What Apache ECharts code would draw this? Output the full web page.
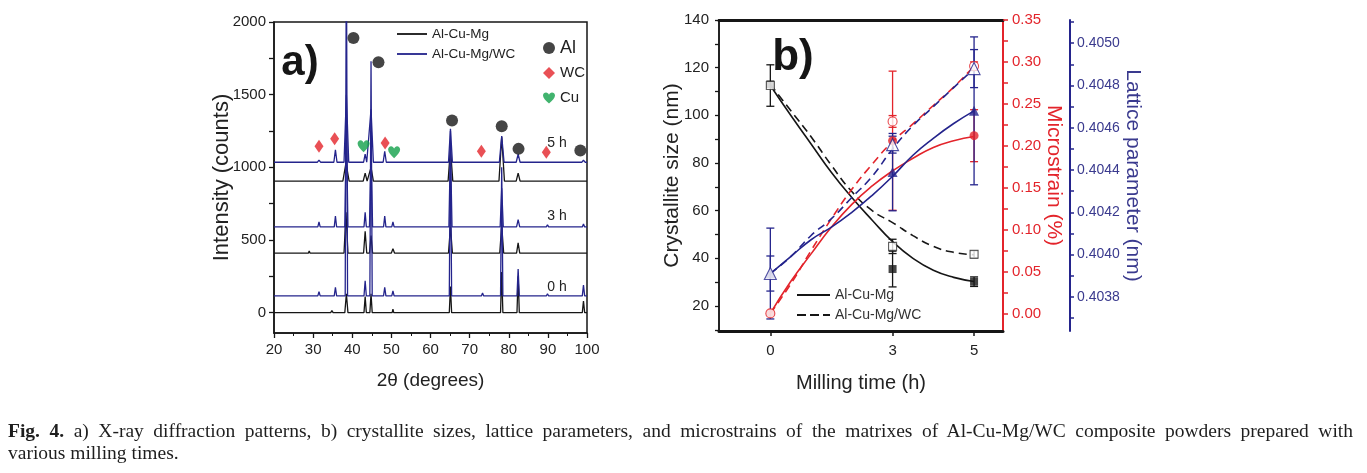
<!DOCTYPE html>
<html>
<head>
<meta charset="utf-8">
<script src="https://cdn.jsdelivr.net/npm/echarts@6/dist/echarts.min.js"></script>
<style>
  html, body { margin: 0; padding: 0; background: #fff; }
  #wrap { position: relative; width: 1367px; height: 473px; }
  #chart { position: absolute; left: 0; top: 0; width: 1367px; height: 473px; }
  #cap { position: absolute; left: 8px; top: 420px; width: 1350px; font-family: "Liberation Serif", serif; font-size: 19.5px; line-height: 22px; color: #1e1e1e; }
  #cap span { white-space: nowrap; }
</style>
</head>
<body>
<div id="wrap">
  <div id="chart"></div>
  <div id="cap">
    <div><span id="l1"><b>Fig. 4.</b> a) X-ray diffraction patterns, b) crystallite sizes, lattice parameters, and microstrains of the matrixes of Al-Cu-Mg/WC composite powders prepared with</span></div>
    <div><span>various milling times.</span></div>
  </div>
</div>
<script>
// ---- a) XRD patterns: [2theta, counts] (traces are stacked)
var xrdCuMg0h = [[20,0],[30,0],[34.5,0],[34.8,15],[35.1,0],[38.1,0],[38.5,130],[38.9,0],[43.0,0],[43.3,110],[43.6,0],
  [44.5,0],[44.8,130],[45.1,0],[50.2,0],[50.4,25],[50.6,0],[64.8,0],[65.1,180],[65.4,0],[77.9,0],[78.2,280],[78.5,0],
  [82.1,0],[82.4,250],[82.7,0],[98.8,0],[99.1,80],[99.4,0],[100,0]];
var xrdCuMg3h = [[20,410],[28.8,410],[29.0,425],[29.2,410],[37.9,410],[38.4,690],[38.9,410],[42.9,410],[43.3,560],[43.7,410],
  [44.4,410],[44.8,530],[45.2,410],[50.0,410],[50.4,440],[50.8,410],[64.6,410],[65.1,590],[65.6,410],[73.8,410],[74.1,422],
  [74.4,410],[77.7,410],[78.2,600],[78.7,410],[82.0,410],[82.4,480],[82.8,410],[98.8,410],[99.1,420],[99.4,410],[100,410]];
var xrdCuMg5h = [[20,905],[37.6,905],[38.4,1030],[39.2,905],[42.8,905],[43.3,960],[43.8,905],[44.2,905],[44.8,1000],[45.4,905],
  [64.5,905],[65.1,1130],[65.7,905],[77.5,905],[78.2,1210],[78.9,905],[81.9,905],[82.4,960],[82.9,905],[100,905]];
var xrdWC0h = [[20,115],[31.2,115],[31.5,145],[31.8,115],[35.4,115],[35.7,175],[36.0,115],[38.2,115],[38.5,2600],[38.8,115],
  [43.0,115],[43.3,220],[43.6,115],[44.5,115],[44.8,1730],[45.1,115],[48.0,115],[48.3,175],[48.6,115],[50.1,115],[50.4,150],
  [50.7,115],[64.8,115],[65.1,1250],[65.4,115],[73.0,115],[73.3,135],[73.6,115],[77.9,115],[78.2,1000],[78.5,115],
  [82.1,115],[82.4,300],[82.7,115],[89.6,115],[89.9,130],[90.2,115],[98.8,115],[99.1,190],[99.4,115],[100,115]];
var xrdWC3h = [[20,590],[31.2,590],[31.5,625],[31.8,590],[35.4,590],[35.7,665],[36.0,590],[38.1,590],[38.5,1300],[38.9,590],
  [43.0,590],[43.3,690],[43.6,590],[44.4,590],[44.8,1100],[45.2,590],[48.0,590],[48.3,665],[48.6,590],[50.1,590],[50.4,625],
  [50.7,590],[64.7,590],[65.1,1150],[65.5,590],[77.8,590],[78.2,855],[78.6,590],[82.0,590],[82.4,640],[82.8,590],
  [89.6,590],[89.9,605],[90.2,590],[98.8,590],[99.1,610],[99.4,590],[100,590]];
var xrdWC5h = [[20,1035],[31.1,1035],[31.5,1050],[31.9,1035],[35.3,1035],[35.7,1120],[36.1,1035],[37.9,1035],[38.5,1500],[39.1,1035],
  [42.9,1035],[43.3,1090],[43.7,1035],[44.2,1035],[44.8,1400],[45.4,1035],[47.9,1035],[48.3,1110],[48.7,1035],[64.6,1035],
  [65.1,1265],[65.6,1035],[77.6,1035],[78.2,1215],[78.8,1035],[81.9,1035],[82.4,1090],[82.9,1035],[98.7,1035],[99.1,1050],
  [99.5,1035],[100,1035]];

// phase markers
var phaseAl = [[40.3,1890],[46.7,1723],[65.5,1322],[78.2,1283],[82.5,1127],[98.3,1116]];
var phaseWC = [[31.5,1145],[35.5,1196],[48.4,1168],[73.0,1111],[89.6,1104]];
var phaseCu = [[42.9,1145],[50.7,1104]];

var twoThetaRange = [20, 100];
var intensityLabels = [0, 500, 1000, 1500, 2000];
var intensityTicks = [0, 250, 500, 750, 1000, 1250, 1500, 1750, 2000];

// ---- b) milling time data
var millHours = [0, 3, 5];
var sizeCuMg = [113, 35.5, 30.2];
var sizeCuMgErr = [0, 7.5, 2];
var sizeWC = [112.5, 45, 41.7];
var sizeWCErr = [8.7, 3, 1.5];
var strainCuMg = [0, 0.206, 0.212];
var strainCuMgErr = [0, 0.083, 0.031];
var strainWC = [0, 0.229, 0.295];
var strainWCErr = [0, 0.007, 0.005];
var latticeCuMg = [0.40391, 0.40439, 0.40468];
var latticeCuMgErr = [0.000215, 0.000183, 0.00035];
var latticeWC = [0.40391, 0.40452, 0.40488];
var latticeWCErr = [0.000083, 0.00004, 0.00009];

// fitted curves
var fitHours = [0, 0.5, 1, 1.5, 2, 2.5, 3, 3.5, 4, 4.5, 5];
var sizeFitCuMg = [112.5, 100, 88, 76, 65.5, 56, 47, 40, 35, 32, 30.3];
var sizeFitWC = [113, 102, 91, 79, 68, 60, 55, 49.5, 45, 42.5, 41.5];
var strainFitCuMg = [0, 0.038, 0.071, 0.103, 0.13, 0.152, 0.17, 0.185, 0.198, 0.206, 0.211];
var strainFitWC = [0, 0.035, 0.075, 0.113, 0.148, 0.178, 0.205, 0.226, 0.248, 0.27, 0.295];
var latticeFitCuMg = [0.40391, 0.40399, 0.40407, 0.40413, 0.40420, 0.40428, 0.40437, 0.40447, 0.40455, 0.40462, 0.40468];
var latticeFitWC = [0.40391, 0.40399, 0.40409, 0.40417, 0.40427, 0.40437, 0.40450, 0.40461, 0.40470, 0.40479, 0.40488];

var millLabels = [0, 3, 5];
var sizeLabels = [20, 40, 60, 80, 100, 120, 140];
var sizeTicks = [10, 20, 30, 40, 50, 60, 70, 80, 90, 100, 110, 120, 130, 140];
var strainLabels = [0, 0.05, 0.1, 0.15, 0.2, 0.25, 0.3, 0.35];
var strainTicks = [0, 0.025, 0.05, 0.075, 0.1, 0.125, 0.15, 0.175, 0.2, 0.225, 0.25, 0.275, 0.3, 0.325, 0.35];
var latticeLabels = [0.4038, 0.4040, 0.4042, 0.4044, 0.4046, 0.4048, 0.4050];
var latticeTicks = [0.4037, 0.4038, 0.4039, 0.4040, 0.4041, 0.4042, 0.4043, 0.4044, 0.4045, 0.4046, 0.4047, 0.4048, 0.4049, 0.4050, 0.4051];

var BLACK = '#161616', BLUE = '#24248c', RED = '#e3242b', GREEN = '#12a04a';
var FONT = 'Liberation Sans';
var HEART = 'path://M50,90 C20,65 0,45 0,25 C0,10 12,0 25,0 C37,0 45,8 50,18 C55,8 63,0 75,0 C88,0 100,10 100,25 C100,45 80,65 50,90 Z';
var SOLID_ICON = 'path://M0,0h33v2h-33z';
var DASH_ICON = 'path://M0,0h9v2h-9z M13,0h9v2h-9z M26,0h7v2h-7z';

function zip(xs, ys, es) {
  return xs.map(function (x, i) { return es ? [x, ys[i], es[i]] : [x, ys[i]]; });
}

function errRender(params, api) {
  var x = api.value(0), y = api.value(1), e = api.value(2);
  if (!e) return { type: 'group', children: [] };
  var top = api.coord([x, y + e]), bot = api.coord([x, y - e]);
  var c = api.visual('color');
  var st = { stroke: c, lineWidth: 1.3 };
  return { type: 'group', children: [
    { type: 'line', shape: { x1: top[0], y1: top[1], x2: bot[0], y2: bot[1] }, style: st },
    { type: 'line', shape: { x1: top[0] - 4, y1: top[1], x2: top[0] + 4, y2: top[1] }, style: st },
    { type: 'line', shape: { x1: bot[0] - 4, y1: bot[1], x2: bot[0] + 4, y2: bot[1] }, style: st }
  ] };
}

function xrdLine(name, data, color) {
  return { name: name, type: 'line', xAxisIndex: 0, yAxisIndex: 0, data: data, symbol: 'none',
    lineStyle: { color: color, width: 1.3 }, itemStyle: { color: color }, clip: true };
}

function errSeries(yIdx, data, color) {
  return { type: 'custom', xAxisIndex: 1, yAxisIndex: yIdx, data: data, renderItem: errRender,
    itemStyle: { color: color }, encode: { x: 0, y: 1 }, z: 3 };
}

function fitLine(yIdx, data, color, dashed) {
  return { type: 'line', xAxisIndex: 1, yAxisIndex: yIdx, data: data, symbol: 'none', smooth: true,
    lineStyle: { color: color, width: 1.6, type: dashed ? [8, 5] : 'solid' }, z: 4 };
}

function markers(yIdx, data, symbol, size, color, open) {
  return { type: 'scatter', xAxisIndex: 1, yAxisIndex: yIdx, data: data, symbol: symbol, symbolSize: size,
    itemStyle: open ? { color: '#ffffff', borderColor: color, borderWidth: 1.1 } : { color: color }, z: 5 };
}

var axisText = { fontFamily: FONT, fontSize: 15, color: '#222' };
function plain(v) { return String(v); }

var option = {
  animation: false,
  grid: [
    { left: 274, right: 780, top: 22, bottom: 140, show: true, borderColor: BLACK, borderWidth: 1.5 },
    { left: 719, right: 364, top: 20, bottom: 142, show: true, borderColor: BLACK, borderWidth: 1.5 }
  ],
  xAxis: [
    { gridIndex: 0, type: 'value', min: twoThetaRange[0], max: twoThetaRange[1], interval: 10,
      axisLine: { onZero: false, lineStyle: { color: BLACK, width: 1.5 } },
      axisTick: { length: 5, lineStyle: { color: BLACK, width: 1.3 } },
      minorTick: { show: true, splitNumber: 2, length: 3, lineStyle: { color: BLACK } },
      splitLine: { show: false },
      axisLabel: Object.assign({ margin: 9, formatter: plain }, axisText),
      name: '2θ (degrees)', nameLocation: 'middle', nameGap: 38, nameMoveOverlap: false,
      nameTextStyle: { fontFamily: FONT, fontSize: 19, color: '#222' } },
    { gridIndex: 1, type: 'value', min: -1.26, max: 5.71,
      axisLine: { onZero: false, lineStyle: { color: BLACK, width: 3 } },
      axisTick: { customValues: millLabels, length: 5, lineStyle: { color: BLACK, width: 1.5 } },
      axisLabel: Object.assign({ customValues: millLabels, margin: 12, formatter: plain }, axisText),
      splitLine: { show: false },
      name: 'Milling time (h)', nameLocation: 'middle', nameGap: 42, nameMoveOverlap: false,
      nameTextStyle: { fontFamily: FONT, fontSize: 20, color: '#222' } },
    { gridIndex: 1, type: 'value', position: 'top', min: -1.26, max: 5.71,
      axisLine: { onZero: false, lineStyle: { color: BLACK, width: 3 } },
      axisTick: { show: false }, axisLabel: { show: false }, splitLine: { show: false } }
  ],
  yAxis: [
    { gridIndex: 0, type: 'value', min: -140, max: 2000,
      axisLine: { onZero: false, lineStyle: { color: BLACK, width: 1.5 } },
      axisTick: { customValues: intensityTicks, length: 5, lineStyle: { color: BLACK, width: 1.3 } },
      axisLabel: Object.assign({ customValues: intensityLabels, margin: 8, formatter: plain }, axisText),
      splitLine: { show: false },
      name: 'Intensity (counts)', nameLocation: 'middle', nameGap: 41, nameMoveOverlap: false,
      nameTextStyle: { fontFamily: FONT, fontSize: 22, color: '#222' } },
    { gridIndex: 1, type: 'value', min: 9.5, max: 140,
      axisLine: { onZero: false, lineStyle: { color: BLACK, width: 1.5 } },
      axisTick: { customValues: sizeTicks, length: 4, lineStyle: { color: BLACK, width: 1.3 } },
      axisLabel: Object.assign({ customValues: sizeLabels, margin: 10, formatter: plain }, axisText),
      splitLine: { show: false },
      name: 'Crystallite size (nm)', nameLocation: 'middle', nameGap: 36, nameMoveOverlap: false,
      nameTextStyle: { fontFamily: FONT, fontSize: 21, color: '#222' } },
    { gridIndex: 1, type: 'value', position: 'right', min: -0.021, max: 0.35,
      axisLine: { onZero: false, lineStyle: { color: RED, width: 2 } },
      axisTick: { customValues: strainTicks, length: 5, lineStyle: { color: RED, width: 1.5 } },
      axisLabel: { customValues: strainLabels, margin: 9, fontFamily: FONT, fontSize: 15, color: RED,
        formatter: function (v) { return v.toFixed(2); } },
      splitLine: { show: false },
      name: 'Microstrain (%)', nameLocation: 'middle', nameGap: 40, nameRotate: -90, nameMoveOverlap: false,
      nameTextStyle: { fontFamily: FONT, fontSize: 21, color: RED } },
    { gridIndex: 1, type: 'value', position: 'right', offset: 67, min: 0.403638, max: 0.40511,
      axisLine: { onZero: false, lineStyle: { color: BLUE, width: 2 } },
      axisTick: { customValues: latticeTicks, length: 4, lineStyle: { color: BLUE, width: 1.5 } },
      axisLabel: { customValues: latticeLabels, margin: 7, fontFamily: FONT, fontSize: 14, color: '#3a3a8e',
        formatter: function (v) { return v.toFixed(4); } },
      splitLine: { show: false },
      name: 'Lattice parameter (nm)', nameLocation: 'middle', nameGap: 52, nameRotate: -90, nameMoveOverlap: false,
      nameTextStyle: { fontFamily: FONT, fontSize: 21, color: '#3a3a8e' } }
  ],
  legend: [
    { left: 397, top: 26, padding: 0, orient: 'vertical', itemWidth: 30, itemHeight: 2, itemGap: 4, selectedMode: false,
      textStyle: { fontFamily: FONT, fontSize: 13.5, color: '#222', lineHeight: 16 },
      data: [
        { name: 'Al-Cu-Mg', icon: SOLID_ICON, itemStyle: { color: BLACK } },
        { name: 'Al-Cu-Mg/WC', icon: SOLID_ICON, itemStyle: { color: BLUE } }
      ] },
    { left: 543, top: 39, padding: 0, orient: 'vertical', itemWidth: 12, itemHeight: 12, itemGap: 7, selectedMode: false,
      textStyle: { fontFamily: FONT, fontSize: 15, color: '#222', lineHeight: 18 },
      data: [{ name: 'Al', textStyle: { fontSize: 18 } }, { name: 'WC' }, { name: 'Cu' }] },
    { left: 797, top: 287, padding: 0, orient: 'vertical', itemWidth: 33, itemHeight: 2, itemGap: 4, selectedMode: false,
      textStyle: { fontFamily: FONT, fontSize: 14, color: '#333', lineHeight: 16 },
      data: [
        { name: 'Al-Cu-Mg', icon: SOLID_ICON, itemStyle: { color: BLACK } },
        { name: 'Al-Cu-Mg/WC', icon: DASH_ICON, itemStyle: { color: BLACK } }
      ] }
  ],
  graphic: [
    { type: 'text', x: 300, y: 63, style: { text: 'a)', font: 'bold 42px "Liberation Sans"', fill: BLACK, align: 'center', verticalAlign: 'middle' } },
    { type: 'text', x: 793, y: 58, style: { text: 'b)', font: 'bold 44px "Liberation Sans"', fill: BLACK, align: 'center', verticalAlign: 'middle' } },
    { type: 'text', x: 557, y: 143, style: { text: '5 h', font: '14px "Liberation Sans"', fill: '#222', align: 'center', verticalAlign: 'middle' } },
    { type: 'text', x: 557, y: 216, style: { text: '3 h', font: '14px "Liberation Sans"', fill: '#222', align: 'center', verticalAlign: 'middle' } },
    { type: 'text', x: 557, y: 287, style: { text: '0 h', font: '14px "Liberation Sans"', fill: '#222', align: 'center', verticalAlign: 'middle' } }
  ],
  series: [
    xrdLine('Al-Cu-Mg', xrdCuMg0h, BLACK),
    xrdLine('Al-Cu-Mg', xrdCuMg3h, BLACK),
    xrdLine('Al-Cu-Mg', xrdCuMg5h, BLACK),
    xrdLine('Al-Cu-Mg/WC', xrdWC0h, BLUE),
    xrdLine('Al-Cu-Mg/WC', xrdWC3h, BLUE),
    xrdLine('Al-Cu-Mg/WC', xrdWC5h, BLUE),
    { name: 'Al', type: 'scatter', xAxisIndex: 0, yAxisIndex: 0, data: phaseAl, symbol: 'circle', symbolSize: 12, itemStyle: { color: BLACK }, z: 5 },
    { name: 'WC', type: 'scatter', xAxisIndex: 0, yAxisIndex: 0, data: phaseWC, symbol: 'diamond', symbolSize: [9, 13], itemStyle: { color: RED }, z: 5 },
    { name: 'Cu', type: 'scatter', xAxisIndex: 0, yAxisIndex: 0, data: phaseCu, symbol: HEART, symbolSize: 12, itemStyle: { color: GREEN }, z: 5 },

    errSeries(1, zip(millHours, sizeWC, sizeWCErr), BLACK),
    errSeries(1, zip(millHours, sizeCuMg, sizeCuMgErr), BLACK),
    errSeries(2, zip(millHours, strainWC, strainWCErr), RED),
    errSeries(2, zip(millHours, strainCuMg, strainCuMgErr), RED),
    errSeries(3, zip(millHours, latticeWC, latticeWCErr), BLUE),
    errSeries(3, zip(millHours, latticeCuMg, latticeCuMgErr), BLUE),

    fitLine(1, zip(fitHours, sizeFitCuMg), BLACK, false),
    fitLine(1, zip(fitHours, sizeFitWC), BLACK, true),
    fitLine(2, zip(fitHours, strainFitCuMg), RED, false),
    fitLine(2, zip(fitHours, strainFitWC), RED, true),
    fitLine(3, zip(fitHours, latticeFitCuMg), BLUE, false),
    fitLine(3, zip(fitHours, latticeFitWC), BLUE, true),

    markers(1, zip(millHours, sizeCuMg), 'rect', 8, BLACK, false),
    markers(1, zip(millHours, sizeWC), 'rect', 8, '#333', true),
    markers(2, zip(millHours, strainCuMg), 'circle', 9, RED, false),
    markers(2, zip(millHours, strainWC), 'circle', 9, RED, true),
    markers(3, zip(millHours, latticeCuMg), 'triangle', 10, BLUE, false),
    markers(3, zip(millHours, latticeWC), 'triangle', 12, BLUE, true)
  ]
};

var chart = echarts.init(document.getElementById('chart'));
chart.setOption(option);

// stretch the first caption line to the full text width, like the justified original
(function () {
  var l1 = document.getElementById('l1');
  var target = 1345;
  var w = l1.getBoundingClientRect().width;
  var spaces = (l1.textContent.match(/ /g) || []).length;
  if (w > target) {
    l1.style.fontSize = (19.5 * target / w) + 'px';
  } else {
    l1.style.wordSpacing = ((target - w) / spaces) + 'px';
  }
})();
</script>
</body>
</html>
